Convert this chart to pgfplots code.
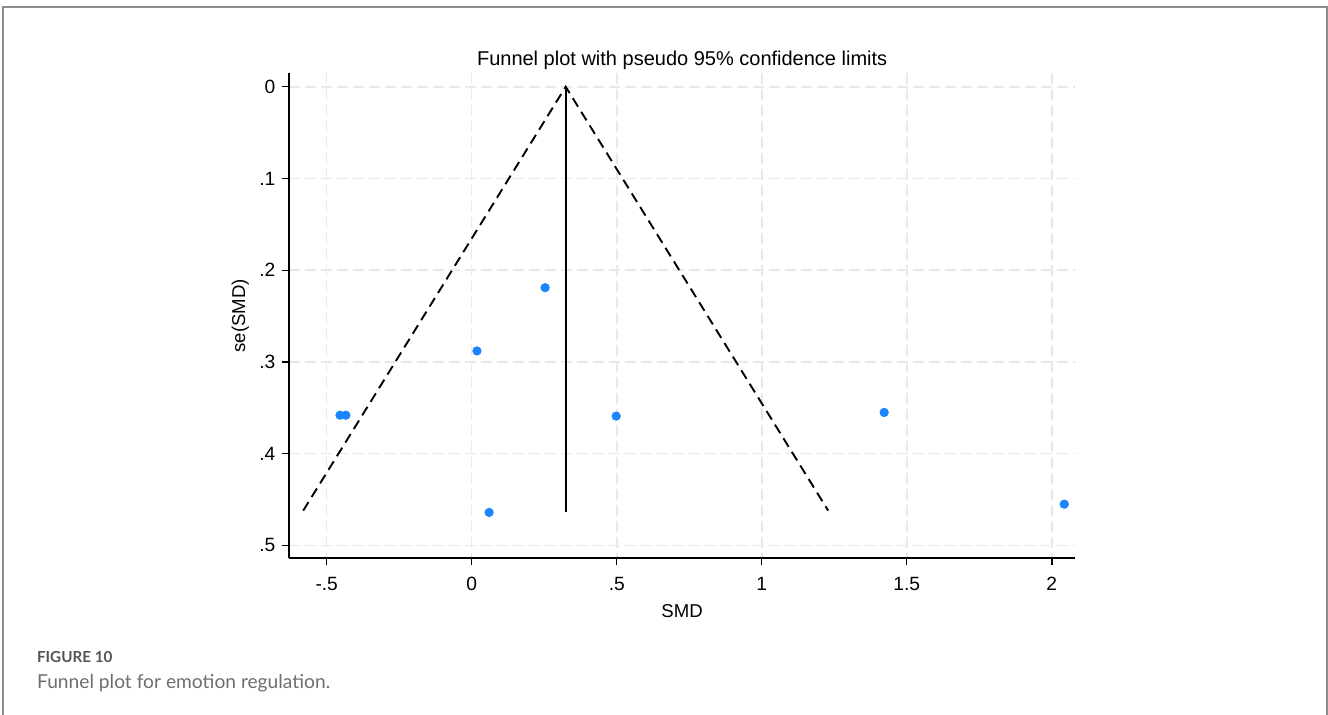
\documentclass[border=0pt]{standalone}
\usepackage{fontspec}
\setmainfont{Liberation Sans}
\newfontfamily\capfont{Lato}
\usepackage{pgfplots}
\pgfplotsset{compat=1.18}
\definecolor{stcblue}{RGB}{26,133,255}
\definecolor{gridgray}{RGB}{232,232,232}
\definecolor{framegray}{RGB}{140,140,140}
\definecolor{capgray}{RGB}{85,85,85}
\begin{document}
\begin{tikzpicture}
\path[use as bounding box] (0,0) rectangle (664bp,357.5bp);
\draw[framegray, line width=0.9bp] (1.65bp,0) -- (1.65bp,353.85bp) -- (663.35bp,353.85bp) -- (663.35bp,0);
\begin{axis}[
  at={(144.65bp,78.35bp)}, anchor=south west,
  scale only axis, width=392.85bp, height=242.65bp,
  xmin=-0.629, xmax=2.080, ymin=-0.015, ymax=0.514,
  y dir=reverse,
  axis lines*=left,
  axis line style={line width=0.9bp, black},
  tick align=outside,
  major tick length=3.5bp,
  every tick/.style={black, line width=0.7bp},
  xtick={-0.5,0,0.5,1,1.5,2},
  xticklabels={-.5,0,.5,1,1.5,2},
  ytick={0,0.1,0.2,0.3,0.4,0.5},
  yticklabels={0,.1,.2,.3,.4,.5},
  ticklabel style={font=\fontsize{9.6bp}{11bp}\selectfont},
  xticklabel style={yshift=-2.5bp},
  grid=major,
  grid style={gridgray, line width=0.75bp, dash pattern=on 5.5bp off 2.5bp},
  every axis title shift=0pt,
  title={Funnel plot with pseudo 95\% confidence limits},
  title style={font=\fontsize{10bp}{12bp}\selectfont, at={(axis description cs:0.5,1)}, anchor=center, yshift=6.5bp},
  xlabel={SMD},
  xlabel style={font=\fontsize{9.3bp}{11bp}\selectfont, at={(axis description cs:0.5,0)}, anchor=center, yshift=-26.5bp},
  ylabel={se(SMD)},
  ylabel style={font=\fontsize{9.3bp}{11bp}\selectfont, at={(axis description cs:-0.0624,0.5)}, anchor=center},
  clip=false,
]
\addplot[black, line width=0.95bp, dash pattern=on 5bp off 3bp] coordinates {(-0.581,0.462) (0.324,0) (1.229,0.462)};
\addplot[black, line width=0.95bp] coordinates {(0.324,0) (0.324,0.463)};
\addplot[only marks, mark=*, mark size=2.1bp, stcblue, mark options={draw=stcblue, fill=stcblue}] coordinates {
(-0.454,0.358) (-0.434,0.358) (0.018,0.288) (0.253,0.219) (0.060,0.464) (0.498,0.359) (1.422,0.355) (2.043,0.455)};
\end{axis}
\node[anchor=base west, inner sep=0, text=capgray, font=\capfont\bfseries\fontsize{7.6bp}{9bp}\selectfont] at (18.35bp,26.5bp) {FIGURE 10};
\node[anchor=base west, inner sep=0, text=capgray!85, font=\capfont\fontsize{9.6bp}{11bp}\selectfont] at (18.35bp,13.35bp) {Funnel plot for emotion regulation.};
\end{tikzpicture}
\end{document}
